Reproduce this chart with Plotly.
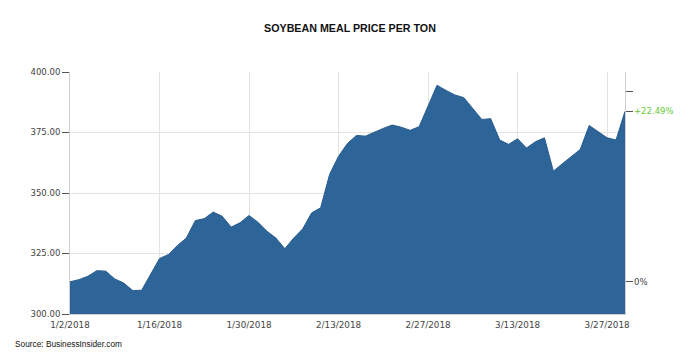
import pandas as pd
import plotly.graph_objects as go

dates = pd.bdate_range("2018-01-02", "2018-03-29").strftime("%Y-%m-%d").tolist()
prices = [
    313.3, 314.2, 315.6, 317.9, 317.7, 314.5, 312.8, 309.7, 309.8, 316.3,
    322.9, 324.6, 328.3, 331.4, 338.6, 339.4, 342.1, 340.4, 335.9, 337.7,
    340.7, 337.9, 334.2, 331.4, 327.0, 331.4, 335.2, 341.8, 343.9, 357.7,
    365.2, 370.5, 373.8, 373.5, 375.2, 376.7, 378.1, 377.2, 375.9, 377.4,
    385.9, 394.5, 392.4, 390.5, 389.4, 384.8, 380.4, 380.7, 371.9, 370.1,
    372.4, 368.6, 371.2, 372.8, 359.0, 362.1, 365.0, 368.0, 377.9, 375.2,
    372.8, 371.9, 383.76,
]
tick_dates = ["2018-01-02", "2018-01-16", "2018-01-30", "2018-02-13",
              "2018-02-27", "2018-03-13", "2018-03-27"]
tick_labels = ["1/2/2018", "1/16/2018", "1/30/2018", "2/13/2018",
               "2/27/2018", "3/13/2018", "3/27/2018"]
y_ticks = [300, 325, 350, 375, 400]
y_labels = ["300.00", "325.00", "350.00", "375.00", "400.00"]
ref_level = 392.0  # unlabeled marker on right axis

first, last = prices[0], prices[-1]
pct = (last / first - 1) * 100
pct_text = f"+{pct:.2f}%"

fill_col = "rgb(45,101,153)"
fig = go.Figure()
fig.add_trace(go.Scatter(
    x=dates, y=prices, mode="lines", fill="tozeroy",
    line=dict(color="rgb(40,92,142)", width=1),
    fillcolor=fill_col, hoverinfo="skip", showlegend=False,
))
# invisible trace to activate right axis
fig.add_trace(go.Scatter(x=[dates[0]], y=[first], yaxis="y2", mode="markers",
                         marker=dict(opacity=0), hoverinfo="skip", showlegend=False))

tick_font = dict(family="DejaVu Sans, Verdana, sans-serif", size=8.5, color="#444")
fig.update_layout(
    width=684, height=345, autosize=False,
    margin=dict(l=62, r=67, t=64, b=39),
    paper_bgcolor="white", plot_bgcolor="white",
    title=dict(text="<b>SOYBEAN MEAL PRICE PER TON</b>", x=0.5, xanchor="center",
               y=1 - 20 / 345, yanchor="middle",
               font=dict(family="Liberation Sans, Arial, sans-serif", size=10.7, color="#111")),
    xaxis=dict(
        range=[dates[0], dates[-1]],
        rangebreaks=[dict(bounds=["sat", "mon"])],
        tickvals=tick_dates, ticktext=tick_labels,
        showgrid=True, gridcolor="#e3e3e3", gridwidth=1,
        ticks="", showline=True, linecolor="#cfcfcf",
        tickfont=dict(family="DejaVu Sans, Verdana, sans-serif", size=8.8, color="#444"),
        ticklabelstandoff=2,
        zeroline=False, fixedrange=True,
    ),
    yaxis=dict(
        range=[300, 400], tickvals=y_ticks, ticktext=y_labels,
        showgrid=True, gridcolor="#e3e3e3", gridwidth=1,
        ticks="outside", ticklen=7, tickcolor="#555", tickwidth=1,
        showline=True, linecolor="#cfcfcf", ticklabelstandoff=0,
        tickfont=tick_font, zeroline=False, fixedrange=True,
    ),
    yaxis2=dict(
        overlaying="y", side="right", range=[300, 400],
        tickvals=[first, last, ref_level], showticklabels=False,
        ticks="outside", ticklen=7, tickcolor="#555", tickwidth=1,
        showgrid=False, showline=True, linecolor="#cfcfcf",
        zeroline=False, fixedrange=True,
    ),
    annotations=[
        dict(text="0%", xref="paper", yref="y", x=1, y=first, xanchor="left",
             yanchor="middle", xshift=7, showarrow=False,
             font=dict(family="DejaVu Sans, Verdana, sans-serif", size=8.5, color="#444")),
        dict(text=pct_text, xref="paper", yref="y", x=1, y=last, xanchor="left",
             yanchor="middle", xshift=7, showarrow=False,
             font=dict(family="DejaVu Sans, Verdana, sans-serif", size=8.5, color="#66cc33")),
        dict(text="Source: BusinessInsider.com", xref="paper", yref="paper",
             x=-57 / 555, y=-30 / 242, xanchor="left", yanchor="middle", showarrow=False,
             font=dict(family="Liberation Sans Narrow, Arial Narrow, Liberation Sans, sans-serif",
                       size=8.3, color="#111")),
    ],
)
fig.write_html("out.html")
